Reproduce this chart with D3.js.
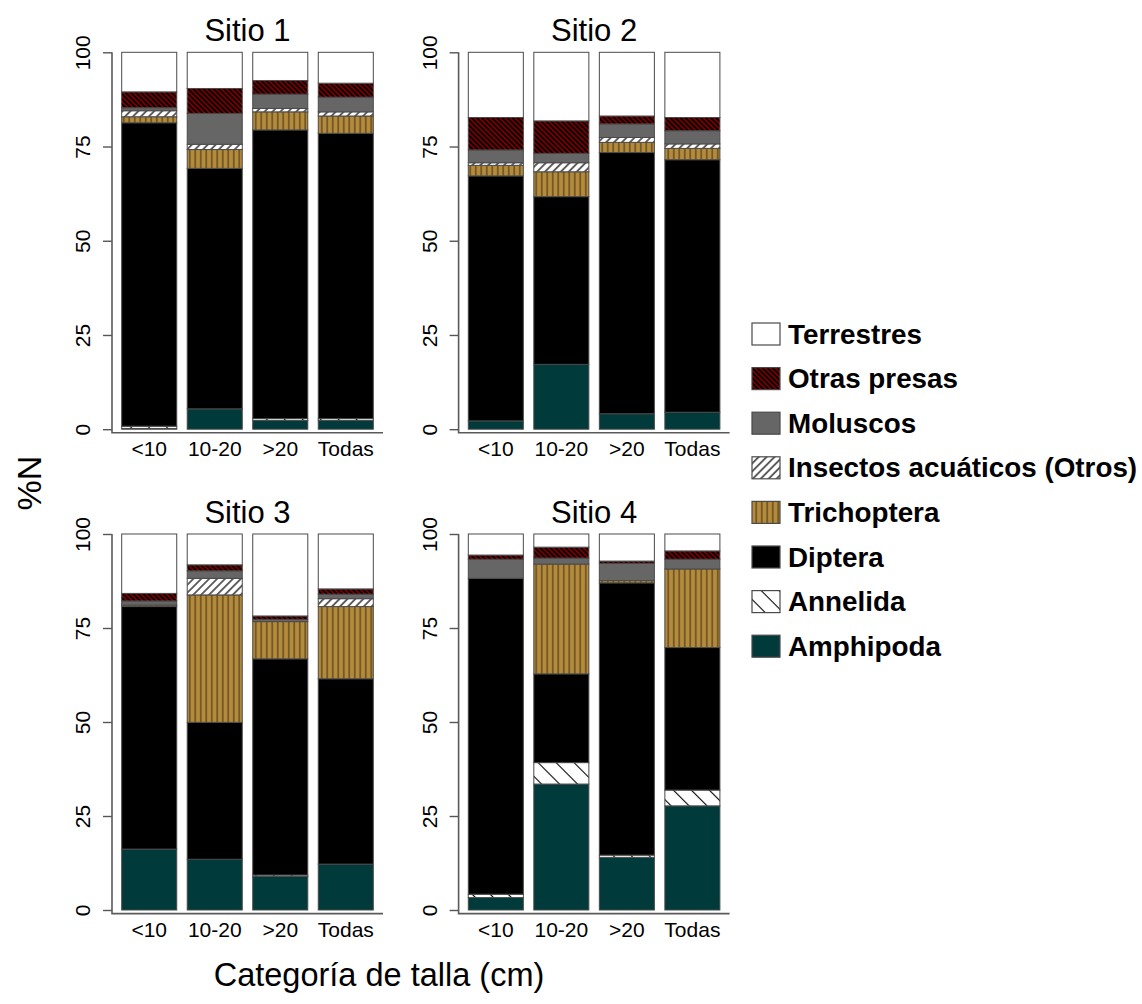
<!DOCTYPE html>
<html>
<head>
<meta charset="utf-8">
<script src="https://cdn.jsdelivr.net/npm/d3@7"></script>
<style>
  body { margin: 0; background: #fff; }
  svg { display: block; font-family: "Liberation Sans", Arial, Helvetica, sans-serif; }
</style>
</head>
<body>
<div id="chart"></div>
<script>
// Sites, size classes and prey groups (stack order: bottom to top)
const siteNames = ["Sitio 1", "Sitio 2", "Sitio 3", "Sitio 4"];
const sizeClasses = ["<10", "10-20", ">20", "Todas"];
const preyGroups = ["Amphipoda", "Annelida", "Diptera", "Trichoptera",
  "Insectos acuáticos (Otros)", "Moluscos", "Otras presas", "Terrestres"];
const yTickValues = [0, 25, 50, 75, 100];

// %N per size class; columns follow preyGroups
const sitio1 = [
  [0.2, 0.6, 80.5, 1.6, 1.6, 0.8, 4.2, 10.5],
  [5.4, 0.0, 63.8, 5.0, 1.4, 8.2, 6.6, 9.6],
  [2.3, 0.5, 76.6, 4.8, 0.9, 3.8, 3.6, 7.5],
  [2.3, 0.5, 75.7, 4.6, 1.1, 3.9, 3.7, 8.2]
];
const sitio2 = [
  [2.2, 0.0, 65.0, 2.8, 0.7, 3.4, 8.6, 17.3],
  [17.2, 0.0, 44.5, 6.6, 2.4, 2.5, 8.6, 18.2],
  [4.1, 0.0, 69.3, 2.7, 1.3, 3.6, 2.1, 16.9],
  [4.5, 0.0, 67.0, 3.0, 1.2, 3.5, 3.5, 17.3]
];
const sitio3 = [
  [16.2, 0.0, 64.5, 0.4, 0.0, 1.1, 2.0, 15.8],
  [13.5, 0.0, 36.4, 33.9, 4.4, 2.0, 1.6, 8.2],
  [8.9, 0.4, 57.5, 9.9, 0.0, 0.6, 0.9, 21.8],
  [12.2, 0.0, 49.3, 19.2, 2.1, 1.2, 1.4, 14.6]
];
const sitio4 = [
  [3.3, 0.9, 84.0, 0.0, 0.0, 5.1, 1.1, 5.6],
  [33.5, 5.7, 23.6, 29.2, 0.0, 1.6, 2.9, 3.5],
  [14.0, 0.6, 72.4, 0.6, 0.0, 4.6, 0.6, 7.2],
  [27.7, 4.2, 37.9, 20.9, 0.0, 2.6, 2.2, 4.5]
];
const siteData = [sitio1, sitio2, sitio3, sitio4];

const W = 1142, H = 1004;
const svg = d3.select("#chart").append("svg")
  .attr("width", W).attr("height", H)
  .attr("viewBox", `0 0 ${W} ${H}`);
svg.append("rect").attr("width", W).attr("height", H).attr("fill", "#fff");

const defs = svg.append("defs");

// Hatching: parallel lines rotated by `angle`, drawn over the base fill
function linePattern(id, angle, spacing, stroke, width, opacity) {
  const p = defs.append("pattern")
    .attr("id", id)
    .attr("patternUnits", "userSpaceOnUse")
    .attr("width", spacing).attr("height", spacing)
    .attr("patternTransform", `rotate(${angle})`);
  p.append("line")
    .attr("x1", spacing / 2).attr("x2", spacing / 2)
    .attr("y1", -1).attr("y2", spacing + 1)
    .attr("stroke", stroke)
    .attr("stroke-width", width)
    .attr("stroke-opacity", opacity);
}
linePattern("hatch-otras", -45, 3.6, "#000", 1.7, 1);
linePattern("hatch-insectos", 45, 5.6, "#000", 1.2, 1);
linePattern("hatch-trich", 0, 5.5, "#000", 1.1, 0.6);
linePattern("hatch-annelida", -45, 12.7, "#000", 1.1, 1);

const groupStyle = {
  "Amphipoda": { fill: "#003a3a", hatch: null },
  "Annelida": { fill: "#ffffff", hatch: "hatch-annelida" },
  "Diptera": { fill: "#000000", hatch: null },
  "Trichoptera": { fill: "#b48b3c", hatch: "hatch-trich" },
  "Insectos acuáticos (Otros)": { fill: "#ffffff", hatch: "hatch-insectos" },
  "Moluscos": { fill: "#666666", hatch: null },
  "Otras presas": { fill: "#750000", hatch: "hatch-otras" },
  "Terrestres": { fill: "#ffffff", hatch: null }
};

// Panel frames: left edge of x range and vertical pixel extent of 0..100
const panelCols = [112, 458.6];
const panelRows = [{ y0: 429.2, y100: 52.3 }, { y0: 910, y100: 534 }];
const panelWidth = 271;

const stack = d3.stack().keys(preyGroups);

siteData.forEach((rowsData, si) => {
  const left = panelCols[si % 2];
  const row = panelRows[Math.floor(si / 2)];

  const x = d3.scaleBand()
    .domain(sizeClasses)
    .range([left, left + panelWidth])
    .paddingInner(0.16)
    .paddingOuter(0.148);
  const y = d3.scaleLinear().domain([0, 100]).range([row.y0, row.y100]);

  const rows = rowsData.map((vals, i) => {
    const o = { cls: sizeClasses[i] };
    preyGroups.forEach((g, j) => { o[g] = vals[j]; });
    return o;
  });
  const series = stack(rows);

  const panel = svg.append("g").attr("class", "panel");

  series.forEach(s => {
    const st = groupStyle[s.key];
    const segs = s.filter(d => d[1] - d[0] > 0);
    const g = panel.append("g").attr("class", "series");
    g.selectAll("rect.base").data(segs).join("rect")
      .attr("class", "base")
      .attr("x", d => x(d.data.cls))
      .attr("width", x.bandwidth())
      .attr("y", d => y(d[1]))
      .attr("height", d => y(d[0]) - y(d[1]))
      .attr("fill", st.fill);
    g.selectAll("rect.edge").data(segs).join("rect")
      .attr("class", "edge")
      .attr("x", d => x(d.data.cls))
      .attr("width", x.bandwidth())
      .attr("y", d => y(d[1]))
      .attr("height", d => y(d[0]) - y(d[1]))
      .attr("fill", st.hatch ? `url(#${st.hatch})` : "none")
      .attr("stroke", "#4a4a4a")
      .attr("stroke-width", 1);
  });

  // Y axis with rotated tick labels
  const yAxis = panel.append("g")
    .attr("transform", `translate(${left},0)`)
    .call(d3.axisLeft(y).tickValues(yTickValues).tickSize(9).tickSizeOuter(0));
  yAxis.select(".domain").remove();
  yAxis.selectAll(".tick line").attr("stroke", "#555").attr("stroke-width", 1.4);
  yAxis.selectAll(".tick text")
    .attr("x", null).attr("dy", null)
    .attr("transform", "translate(-22,0) rotate(-90)")
    .attr("text-anchor", "middle")
    .attr("font-size", 21)
    .attr("fill", "#000");

  // L-shaped frame
  const baseY = row.y0 + 3.6;
  panel.append("path")
    .attr("d", `M${left},${row.y100}V${baseY}H${left + panelWidth}`)
    .attr("fill", "none")
    .attr("stroke", "#5a5a5a")
    .attr("stroke-width", 1.6);

  // X axis labels
  const xAxis = panel.append("g")
    .attr("transform", `translate(0,${row.y0})`)
    .call(d3.axisBottom(x).tickSize(0));
  xAxis.select(".domain").remove();
  xAxis.selectAll(".tick text")
    .attr("y", 27).attr("dy", null)
    .attr("font-size", 21)
    .attr("fill", "#000");

  // Panel title
  panel.append("text")
    .attr("x", left + panelWidth / 2)
    .attr("y", row.y100 - 11)
    .attr("text-anchor", "middle")
    .attr("font-size", 31)
    .attr("fill", "#000")
    .text(siteNames[si]);
});

// Axis titles
svg.append("text")
  .attr("x", 379).attr("y", 986)
  .attr("text-anchor", "middle")
  .attr("font-size", 32.5)
  .text("Categoría de talla (cm)");
svg.append("text")
  .attr("transform", "translate(41,483) rotate(-90)")
  .attr("text-anchor", "middle")
  .attr("font-size", 34)
  .text("%N");

// Legend (top of stack first)
const legendGroups = preyGroups.slice().reverse();
const legend = svg.append("g").attr("class", "legend");
legendGroups.forEach((g, i) => {
  const cy = 334 + i * 44.6;
  const st = groupStyle[g];
  legend.append("rect")
    .attr("x", 752).attr("y", cy - 11).attr("width", 28).attr("height", 22)
    .attr("fill", st.fill);
  legend.append("rect")
    .attr("x", 752).attr("y", cy - 11).attr("width", 28).attr("height", 22)
    .attr("fill", st.hatch ? `url(#${st.hatch})` : "none")
    .attr("stroke", "#4a4a4a").attr("stroke-width", 1.2);
  legend.append("text")
    .attr("x", 788).attr("y", cy + 9.5)
    .attr("font-size", 27.8)
    .attr("font-weight", "bold")
    .text(g);
});
</script>
</body>
</html>
